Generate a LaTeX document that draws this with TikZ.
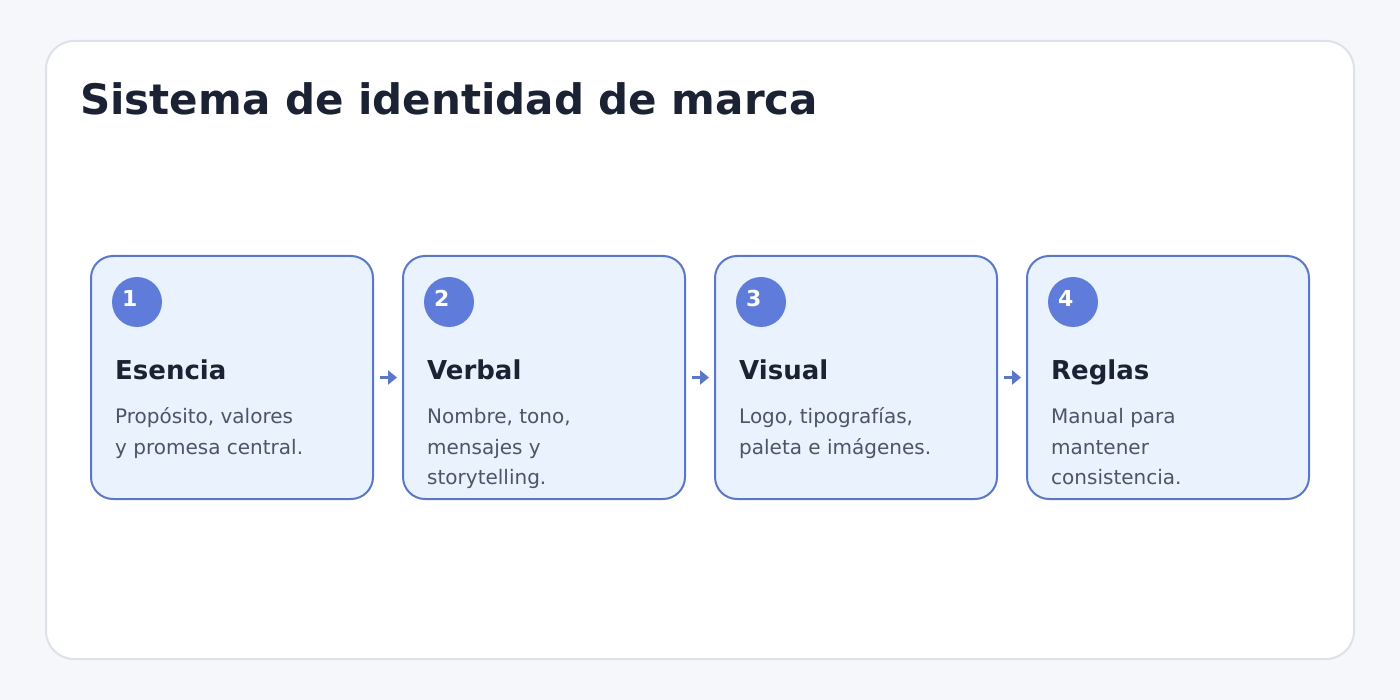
\documentclass[tikz,border=0pt]{standalone}
\usepackage{fontspec}
\setmainfont{DejaVu Sans}
\usetikzlibrary{arrows.meta,positioning}
\definecolor{pagebg}{HTML}{F5F7FB}
\definecolor{cardline}{HTML}{DDE1EA}
\definecolor{titlecol}{HTML}{1A2233}
\definecolor{boxfill}{HTML}{EAF2FE}
\definecolor{boxline}{HTML}{5B78C8}
\definecolor{numfill}{HTML}{5F7CDB}
\definecolor{desccol}{HTML}{4A5568}

\begin{document}
\begin{tikzpicture}[
    x=1pt, y=1pt,
    node distance=30pt,
    stage/.style={
		rectangle,
		rounded corners=22pt,
		draw=boxline,
		line width=2pt,
		fill=boxfill,
		minimum width=282pt,
		minimum height=243pt,
		inner sep=0pt,
		outer sep=0pt
	},
	numdot/.style={
		circle,
		fill=numfill,
		minimum size=50pt,
		inner sep=0pt
	},
	numtext/.style={
		anchor=base west,
		inner sep=0pt,
		text=white,
		font=\bfseries\fontsize{22}{26}\selectfont
	},
	heading/.style={
		anchor=base west,
		inner sep=0pt,
		text=titlecol,
		font=\bfseries\fontsize{26}{30}\selectfont
	},
	desc/.style={
		anchor=base west,
		inner sep=0pt,
		text=desccol,
		font=\fontsize{20}{30}\selectfont
	},
	flow/.style={
		draw=boxline,
		line width=3pt,
		-{Triangle[length=9pt,width=14pt]},
		shorten <=7pt,
		shorten >=6pt
	}
  ]
    % page and card
  \useasboundingbox (0,0) rectangle (1400,-700);
  \fill [pagebg] (0,0) rectangle (1400,-700);
  \draw [cardline, fill=white, line width=2pt, rounded corners=28pt] (46,-41) rectangle (1354,-659);

  \node [anchor=base west, inner sep=0pt, text=titlecol, font=\bfseries\fontsize{42}{48}\selectfont] (title) at (80,-115) {Sistema de identidad de marca};

    % the four stages
  \node [stage] (esencia) at (232,-377.5) {};
  \node [stage, right=of esencia] (verbal) {};
  \node [stage, right=of verbal] (visual) {};
  \node [stage, right=of visual] (reglas) {};

  \node [numdot] (dot1) at ([xshift=46pt, yshift=-46pt]esencia.north west) {};
  \node [numdot] (dot2) at ([xshift=46pt, yshift=-46pt]verbal.north west) {};
  \node [numdot] (dot3) at ([xshift=46pt, yshift=-46pt]visual.north west) {};
  \node [numdot] (dot4) at ([xshift=46pt, yshift=-46pt]reglas.north west) {};

  \node [numtext] at ([xshift=-15pt, yshift=-5pt]dot1.center) {1};
  \node [numtext] at ([xshift=-15pt, yshift=-5pt]dot2.center) {2};
  \node [numtext] at ([xshift=-15pt, yshift=-5pt]dot3.center) {3};
  \node [numtext] at ([xshift=-15pt, yshift=-5pt]dot4.center) {4};

  \node [heading] (h1) at ([xshift=24pt, yshift=-124pt]esencia.north west) {Esencia};
  \node [heading] (h2) at ([xshift=24pt, yshift=-124pt]verbal.north west) {Verbal};
  \node [heading] (h3) at ([xshift=24pt, yshift=-124pt]visual.north west) {Visual};
  \node [heading] (h4) at ([xshift=24pt, yshift=-124pt]reglas.north west) {Reglas};

  \node [desc] (d1) at ([yshift=-44pt]h1.base west)
  {\begin{tabular}[t]{@{}l@{}}Propósito, valores\\y promesa central.\end{tabular}};
  \node [desc] (d2) at ([yshift=-44pt]h2.base west)
  {\begin{tabular}[t]{@{}l@{}}Nombre, tono,\\mensajes y\\storytelling.\end{tabular}};
  \node [desc] (d3) at ([yshift=-44pt]h3.base west)
  {\begin{tabular}[t]{@{}l@{}}Logo, tipografías,\\paleta e imágenes.\end{tabular}};
  \node [desc] (d4) at ([yshift=-44pt]h4.base west)
  {\begin{tabular}[t]{@{}l@{}}Manual para\\mantener\\consistencia.\end{tabular}};

    % connectors
  \draw [flow] (esencia) -- (verbal);
  \draw [flow] (verbal) -- (visual);
  \draw [flow] (visual) -- (reglas);

\end{tikzpicture}
\end{document}
